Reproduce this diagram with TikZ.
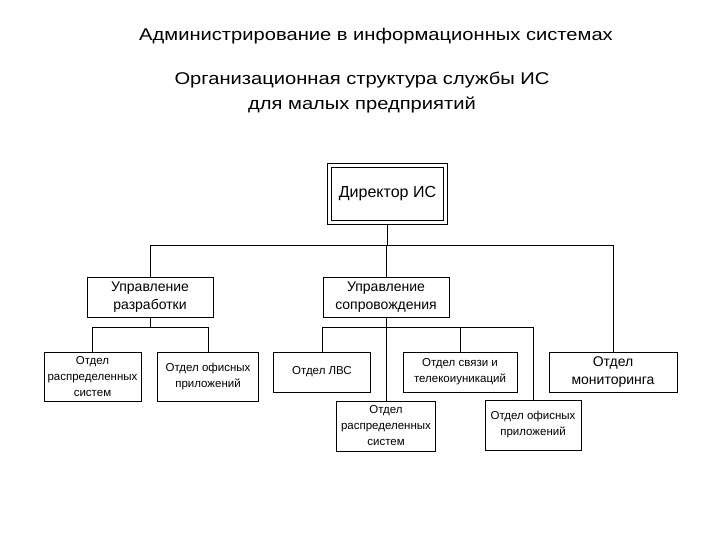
\documentclass[tikz,border=0pt]{standalone}
\usepackage{fontspec}
\setmainfont{Liberation Sans}
\usepackage{tikz}
\usetikzlibrary{positioning}

\begin{document}
\begin{tikzpicture}[
    x=1pt, y=-1pt,
    box/.style={rectangle, draw, line width=0.9pt, inner sep=0pt, align=center, font=\fontsize{14}{18}\selectfont},
    smallbox/.style={box, font=\fontsize{11.5}{16}\selectfont},
    line/.style={line width=0.9pt},
    title/.style={font=\fontsize{17}{25}\selectfont, align=center, xscale=1.185}
]
\useasboundingbox[fill=white] (0,0) rectangle (720,540);

% Titles
\node[title] (head) at (376,36) {Администрирование в информационных системах};
\node[title] (sub) at (362,93) {Организационная структура службы ИС\\для малых предприятий};

% Nodes
\node[box, minimum width=112pt, minimum height=53pt, font=\fontsize{16}{18}\selectfont] (dir) at (387.5,194) {Директор ИС};
\draw[line] ([shift={(-3.5,-3.5)}]dir.north west) rectangle ([shift={(3.5,3.5)}]dir.south east);
\node[box, minimum width=126pt, minimum height=40pt] (upr1) at (150,297) {Управление\\разработки};
\node[box, minimum width=126pt, minimum height=40pt] (upr2) at (386,297) {Управление\\сопровождения};
\node[box, minimum width=128pt, minimum height=40pt] (mon) at (613,372) {Отдел\\мониторинга};
\node[smallbox, minimum width=97pt, minimum height=49pt] (otd1) at (92.5,376.5) {Отдел\\распределенных\\систем};
\node[smallbox, minimum width=101pt, minimum height=49pt] (otd2) at (208,376.5) {Отдел офисных\\приложений};
\node[smallbox, minimum width=97pt, minimum height=40pt] (lvs) at (322,372) {Отдел ЛВС};
\node[smallbox, minimum width=114pt, minimum height=40pt] (sv) at (460,372) {Отдел связи и\\телекоиуникаций};
\node[smallbox, minimum width=99pt, minimum height=50pt] (rsp2) at (386,426) {Отдел\\распределенных\\систем};
\node[smallbox, minimum width=96pt, minimum height=50pt] (of2) at (533,425) {Отдел офисных\\приложений};

% Lines
\draw[line] (dir.south) ++(0,3.5) -- ++(0,21) coordinate (bus1);
\draw[line] (upr1.north) |- (bus1);
\draw[line] (mon.north) |- (bus1);
\draw[line] (upr2.north) -- (upr2.north |- bus1);
\draw[line] (upr1.south) -- ++(0,10) coordinate (bus2);
\draw[line] (otd1.north) |- (bus2);
\draw[line] (otd2.north) |- (bus2);
\draw[line] (upr2.south) -- (rsp2.north);
\path (upr2.south) ++(0,10) coordinate (bus3);
\draw[line] (lvs.north) |- (bus3);
\draw[line] (sv.north) |- (bus3);
\draw[line] (of2.north) |- (bus3);

\end{tikzpicture}
\end{document}
